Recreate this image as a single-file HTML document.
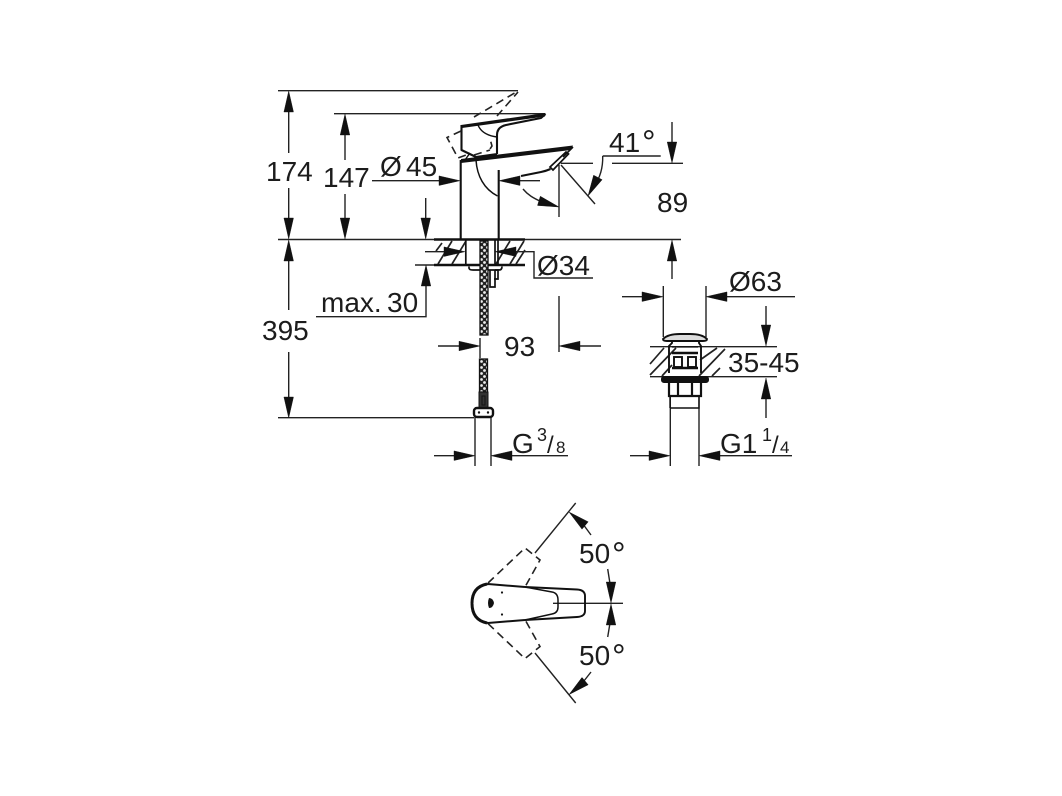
<!DOCTYPE html>
<html><head><meta charset="utf-8">
<style>
html,body{margin:0;padding:0;background:#fff}
svg{display:block}
text{font-family:"Liberation Sans",sans-serif;fill:#1c1c1c;font-size:28px}
</style></head><body>
<svg width="1062" height="796" viewBox="0 0 1062 796" xmlns="http://www.w3.org/2000/svg">
<defs>
<path id="a" d="M0 0L-21 -4.8L-21 4.8Z" fill="#111" stroke="#111" stroke-width=".4"/>
<pattern id="h" width="6" height="6" patternUnits="userSpaceOnUse"><rect width="6" height="6" fill="#222"/><circle cx="1.5" cy="1.5" r="1.4" fill="#eee"/><circle cx="4.5" cy="4.5" r="1.4" fill="#eee"/></pattern>
</defs>
<g fill="none" stroke="#222" stroke-width="1.4">
<!-- extension lines -->
<path d="M278 90.7H518M334 113.7H545M278 239.5H434M525 239.5H681"/>
<path d="M278 417.7H474"/>
<!-- 174 / 395 -->
<path d="M288.7 100V153M288.7 188V225M288.7 250V310M288.7 352V408"/>
<path d="M345 124V160M345 194V225"/>
<!-- O45 -->
<path d="M372 180.7H445M505 180.7H540"/>
<!-- max 30 -->
<path d="M425.7 198V225M426 275V316.7H316M415 265H525"/>
<!-- O34 -->
<path d="M425 251.7H450M510 251.7H534V278H593"/>
<!-- 93 -->
<path d="M438 346H465M480 338V358M559 296V352M575 346H601"/>
<!-- G3/8 -->
<path d="M475 417V466M491 417V466M434 455.7H460M505 455.7H568"/>
<!-- 41/89 -->
<path d="M561 163.3H593M612 163.3H683M602.7 156H660.7M672 122V150M672 250V279M559 165V217M561 165L595 204"/>
<path d="M602.7 156C603 168 600 178 594 186"/>
<path d="M523 189C528 195 533 198 542 202"/>
<!-- Popup dims -->
<path d="M663.3 286V337M706 286V337M622 296.7H650M720 296.7H795M650 346.7H777M650 376.7H777M766 306V335M766 390V418"/>
<path d="M670.3 396V466M699 396V466M630 455.7H655M714 455.7H792"/>
<!-- Top view lines -->
<path d="M535 553L575.7 503M535 653L575.7 703M553 603.3H623"/>
<path d="M580 520L591 535M591 672L580 686M607.7 569L611 590M611 617L607.7 637"/>
<!-- hatches -->
<path stroke-width="1.7" d="M438 264L452 241M452 264L466 241M436 251L442 243M496 264L510 241M510 264L524 241M516 264L525 250"/>
<path stroke-width="1.7" d="M650 364L664 348M650 375L676 348M662 376L672 365M700 360L717 348M699 376L725 349M712 376L720 368"/>
</g>
<!-- heavy faucet outline -->
<g fill="none" stroke="#111" stroke-width="2.1" stroke-linejoin="round">
<path d="M460.7 160V239M498.7 170V239"/>
<path d="M461.5 125V150L476 157L497 154M497 154V135Q497 127 506 125L541 118L545.5 114"/>
<path d="M478 125Q482 135 497 137" stroke-width="1.4"/>
<path d="M476 160C477 176 484 189 497.5 196" stroke-width="1.5"/>
<path d="M521 176L541 172Q546 171 550.5 169"/>
<path d="M465 160L470 153" stroke-width="1.4"/>
</g>
<path d="M461 125L545.5 113L545 116.5L462 128Z" fill="#111"/>
<path d="M461 159L573 145.5L571 150L461 163Z" fill="#111"/>
<path d="M550 167L566 152L568.5 154L553 170Z" fill="#fff" stroke="#111" stroke-width="1.7"/>
<path d="M573 147L563 157" stroke="#111" stroke-width="1.6"/>
<!-- dashed handle -->
<g fill="none" stroke="#222" stroke-width="1.6" stroke-dasharray="8 5">
<path d="M461 131L447 137.5L458 158L466 155"/>
<path d="M474 117L518 91"/>
<path d="M497 116L518 92"/>
<path d="M490 149L492 146L490 139"/>
<path d="M474 155L490 150"/>
<path d="M488 583L525 548L540 560L525 587"/>
<path d="M488 623.6L525 658.6L540 646.6L525 619.6"/>
</g>
<!-- base -->
<path d="M434 239.5H525" stroke="#111" stroke-width="2.6"/>
<path d="M434 265H525" stroke="#111" stroke-width="2.4"/>
<path d="M465.8 240V265M495 240V265M498 240V265" stroke="#111" stroke-width="1.7"/>
<path d="M469 266.5V268Q469 270 473 270H499Q502 270 502 266.5" fill="none" stroke="#111" stroke-width="1.7"/>
<path d="M490 270V287H495V270M495 270H498V279H494" fill="none" stroke="#111" stroke-width="1.7"/>
<rect x="480" y="241" width="8" height="94" fill="url(#h)" stroke="#111" stroke-width="1.3"/>
<rect x="479.5" y="359" width="8" height="33" fill="url(#h)" stroke="#111" stroke-width="1.3"/>
<path d="M479 392H488V408H479Z M482 396H485V405H482Z" fill="#333" stroke="#111" stroke-width="1"/>
<rect x="474" y="408" width="19" height="9" rx="3" fill="#fff" stroke="#111" stroke-width="2.4"/>
<circle cx="479" cy="412.5" r="1.2" fill="#111"/><circle cx="488" cy="412.5" r="1.2" fill="#111"/>
<!-- popup waste -->
<g fill="none" stroke="#111" stroke-width="1.9">
<path d="M663 339Q668 334 680 334H690Q702 334 707 339Q707 341 703 341H667Q663 341 663 339Z" fill="#ddd"/>
<path d="M672 341V343L669 346V373M699 341V343L701 346V373"/>
<path d="M672 347H698" stroke-width="1.2"/>
<path d="M672 353H698M672 368H698" stroke-width="2.4"/>
<rect x="674" y="357" width="8" height="10"/><rect x="688" y="357" width="8" height="10"/>
<rect x="662" y="377" width="46" height="5" rx="2" fill="#111" stroke-width="2"/>
<path d="M669 383V396H701V383M678 383V396M692 383V396" stroke-width="2.2"/>
<path d="M670 408H699V396" stroke-width="1.4"/>
<path d="M670 408V396" stroke-width="1.4"/>
</g>
<!-- top view -->
<g fill="none" stroke="#111" stroke-width="1.9">
<path d="M525 587L577 589.5Q585 590 585 596V611Q585 616.5 577 617L525 620"/>
<path d="M525 587L552 592Q558 593 558 600V607Q558 613 552 614L525 620" stroke-width="1.5"/>
<path d="M525 587L488 584Q472 586 472 603.3Q472 620 488 623L525 620" stroke-width="2"/>
<path d="M472 603.3Q472 587 487 584" stroke-width="3"/>
<path d="M472 603.3Q472 620 487 623" stroke-width="3"/>
</g>
<path d="M489 598Q493 598 494 603Q493 608 489 608Q487 603 489 598Z" fill="#111"/>
<circle cx="502" cy="592.5" r="1.1" fill="#111"/><circle cx="502" cy="614.5" r="1.1" fill="#111"/>
<!-- arrowheads -->
<use href="#a" transform="translate(288.7,91) rotate(-90)"/>
<use href="#a" transform="translate(288.7,239) rotate(90)"/>
<use href="#a" transform="translate(288.7,240) rotate(-90)"/>
<use href="#a" transform="translate(288.7,418) rotate(90)"/>
<use href="#a" transform="translate(345,114) rotate(-90)"/>
<use href="#a" transform="translate(345,239) rotate(90)"/>
<use href="#a" transform="translate(460,180.7)"/>
<use href="#a" transform="translate(499,180.7) rotate(180)"/>
<use href="#a" transform="translate(425.7,239) rotate(90)"/>
<use href="#a" transform="translate(426,265) rotate(-90)"/>
<use href="#a" transform="translate(465,251.7)"/>
<use href="#a" transform="translate(495,251.7) rotate(180)"/>
<use href="#a" transform="translate(480,346)"/>
<use href="#a" transform="translate(559,346) rotate(180)"/>
<use href="#a" transform="translate(475,455.7)"/>
<use href="#a" transform="translate(491,455.7) rotate(180)"/>
<use href="#a" transform="translate(672,163) rotate(90)"/>
<use href="#a" transform="translate(672,240) rotate(-90)"/>
<use href="#a" transform="translate(588,196) rotate(118)"/>
<use href="#a" transform="translate(559,207) rotate(17)"/>
<use href="#a" transform="translate(663,296.7)"/>
<use href="#a" transform="translate(706,296.7) rotate(180)"/>
<use href="#a" transform="translate(766,346) rotate(90)"/>
<use href="#a" transform="translate(766,378) rotate(-90)"/>
<use href="#a" transform="translate(670,455.7)"/>
<use href="#a" transform="translate(699,455.7) rotate(180)"/>
<use href="#a" transform="translate(569,512) rotate(-140)"/>
<use href="#a" transform="translate(569,694.6) rotate(140)"/>
<use href="#a" transform="translate(611,603) rotate(90)"/>
<use href="#a" transform="translate(611,604) rotate(-90)"/>
<!-- labels -->
<text x="266" y="181">174</text>
<text x="323" y="187">147</text>
<text x="380" y="176">Ø</text><text x="406" y="176">45</text>
<text x="609" y="152">41</text><text x="642" y="154" style="font-size:34px">°</text>
<text x="657" y="212">89</text>
<text x="262" y="340">395</text>
<text x="321" y="312">max.</text><text x="387" y="312">30</text>
<text x="537" y="275">Ø34</text>
<text x="504" y="356">93</text>
<text x="729" y="291">Ø63</text>
<text x="728" y="372">35-45</text>
<text x="512" y="453">G</text>
<text x="537" y="441" style="font-size:18px">3</text>
<text x="547" y="453" style="font-size:24px">/</text>
<text x="556" y="453" style="font-size:17px">8</text>
<text x="720" y="453">G1</text>
<text x="762" y="441" style="font-size:18px">1</text>
<text x="772" y="453" style="font-size:24px">/</text>
<text x="780" y="453" style="font-size:17px">4</text>
<text x="579" y="563">50</text><text x="612" y="566" style="font-size:34px">°</text>
<text x="579" y="665">50</text><text x="612" y="668" style="font-size:34px">°</text>
</svg>
</body></html>
